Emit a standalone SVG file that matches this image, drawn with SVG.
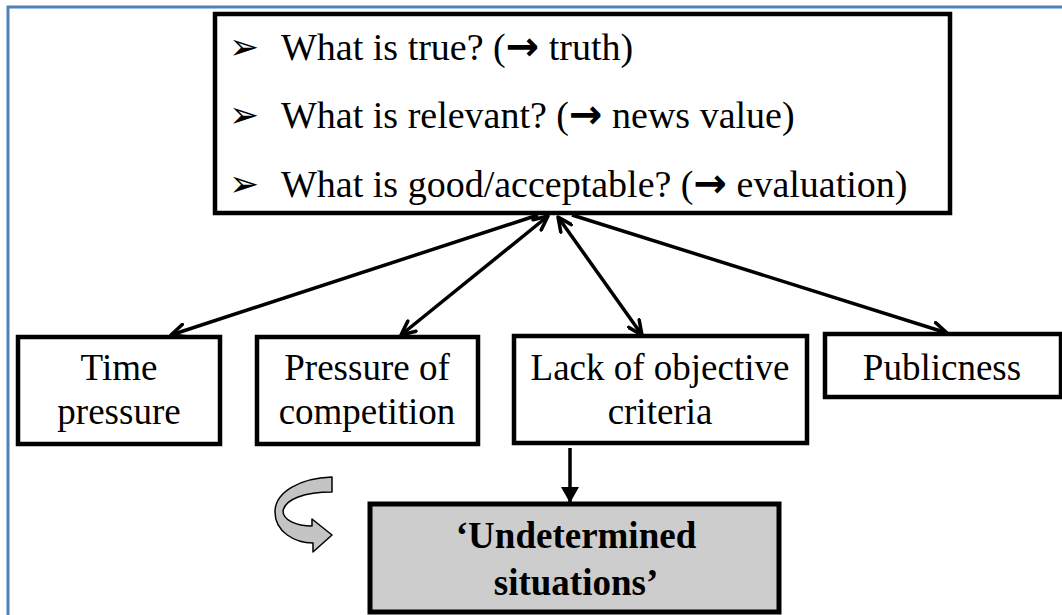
<svg xmlns="http://www.w3.org/2000/svg" width="1062" height="615" viewBox="0 0 1062 615">
<defs>
<style>
.box{fill:#fff;stroke:#000;stroke-width:4.5}
.t{font-family:'Liberation Serif','Times New Roman','DejaVu Serif',serif;font-size:37px;fill:#000}
.q{font-size:38px}
.c{text-anchor:middle}
.b{font-weight:bold}
.bul{font-family:'DejaVu Sans',sans-serif;font-size:36px;fill:#000}
.arr{font-family:'DejaVu Sans',sans-serif;font-weight:bold;font-size:40px}
.con{stroke:#000;stroke-width:3.5;fill:none}
</style>
<marker id="ah" viewBox="0 0 18 16" refX="16" refY="8" markerWidth="18" markerHeight="16" markerUnits="userSpaceOnUse" orient="auto-start-reverse">
<path d="M2,1.5 L16,8 L2,14.5" fill="none" stroke="#000" stroke-width="3.5" stroke-linejoin="round" stroke-linecap="round"/>
</marker>
<marker id="fh" viewBox="0 0 16 18" refX="15" refY="9" markerWidth="16" markerHeight="18" markerUnits="userSpaceOnUse" orient="auto">
<path d="M0,0 L16,9 L0,18 Z" fill="#000"/>
</marker>
</defs>
<rect x="8" y="7" width="1070" height="620" fill="none" stroke="#4f81bd" stroke-width="3"/>

<g id="connectors">
<line class="con" x1="538" y1="215" x2="171" y2="335" marker-end="url(#ah)"/>
<line class="con" x1="548" y1="216" x2="401" y2="335" marker-start="url(#ah)" marker-end="url(#ah)"/>
<line class="con" x1="558" y1="217" x2="642" y2="335" marker-start="url(#ah)" marker-end="url(#ah)"/>
<line class="con" x1="572" y1="215" x2="947" y2="333" marker-end="url(#ah)"/>
<line class="con" x1="570" y1="448" x2="570" y2="502" stroke-width="4" marker-end="url(#fh)"/>
</g>

<g id="questions">
<rect class="box" x="215" y="14" width="735" height="199"/>
<text class="bul" x="229" y="59">➢</text>
<text class="t q" x="281" y="60">What is true? (<tspan class="arr">→</tspan> truth)</text>
<text class="bul" x="229" y="127">➢</text>
<text class="t q" x="281" y="128">What is relevant? (<tspan class="arr">→</tspan> news value)</text>
<text class="bul" x="229" y="196">➢</text>
<text class="t q" x="281" y="197">What is good/acceptable? (<tspan class="arr">→</tspan> evaluation)</text>
</g>

<g id="time">
<rect class="box" x="18" y="337" width="202" height="107" stroke-width="5"/>
<text class="t c" x="119" y="380">Time</text>
<text class="t c" x="119" y="424">pressure</text>
</g>

<g id="competition">
<rect class="box" x="257" y="337" width="221" height="107" stroke-width="5"/>
<text class="t c" x="367" y="380">Pressure of</text>
<text class="t c" x="367" y="424">competition</text>
</g>

<g id="criteria">
<rect class="box" x="514" y="336" width="293" height="107" stroke-width="5"/>
<text class="t c" x="660" y="380">Lack of objective</text>
<text class="t c" x="660" y="424">criteria</text>
</g>

<g id="publicness">
<rect class="box" x="825" y="334" width="236" height="63" stroke-width="5"/>
<text class="t c" x="942" y="380">Publicness</text>
</g>

<g id="undetermined">
<rect x="370" y="504" width="409" height="108" fill="#cdcdcd" stroke="#000" stroke-width="5"/>
<text class="t c b" x="576" y="548">‘Undetermined</text>
<text class="t c b" x="576" y="595">situations’</text>
</g>

<g id="curved-arrow">
<path d="M332,477 C300,478 275,492 275,512 C275,532 295,543 313,543 L313,552 L332,535 L312,519 L312,526 C296,526 283,520 283,511 C285,499 305,492 332,492 Z" fill="#c4c4c4" stroke="#000" stroke-width="1.5" stroke-linejoin="round"/>
</g>
</svg>
